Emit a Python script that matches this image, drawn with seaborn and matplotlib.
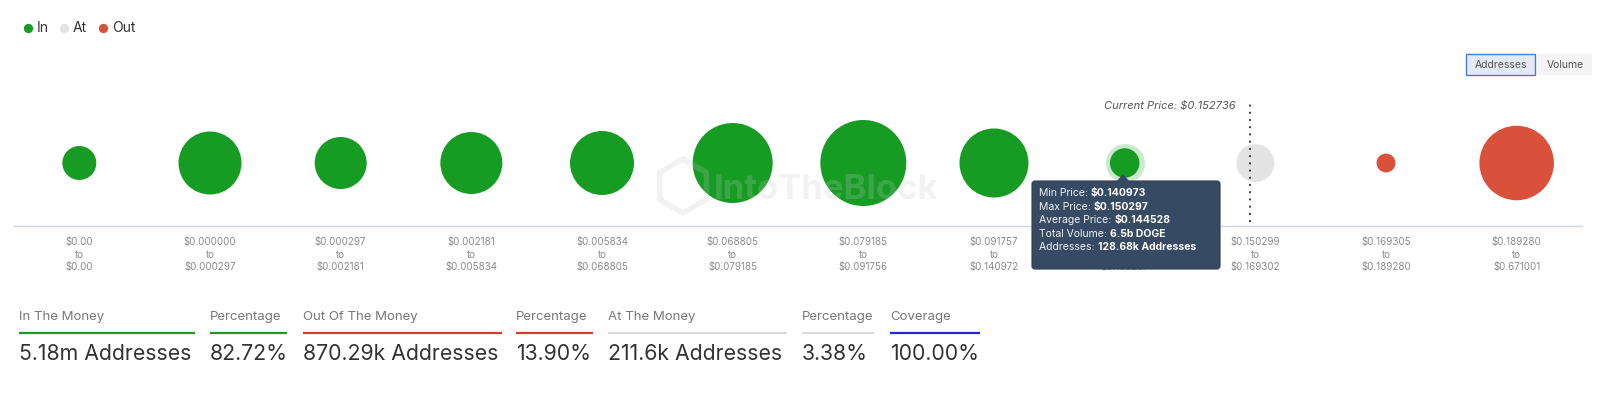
import numpy as np
import pandas as pd
import matplotlib
matplotlib.use("Agg")
import matplotlib.pyplot as plt
import seaborn as sns
from matplotlib.patches import Rectangle, FancyBboxPatch, Polygon

# price bins (in / at / out of the money)
range_lo = ["$0.00", "$0.000000", "$0.000297", "$0.002181", "$0.005834", "$0.068805",
            "$0.079185", "$0.091757", "$0.140973", "$0.150299", "$0.169305", "$0.189280"]
range_hi = ["$0.00", "$0.000297", "$0.002181", "$0.005834", "$0.068805", "$0.079185",
            "$0.091756", "$0.140972", "$0.150297", "$0.169302", "$0.189280", "$0.671001"]
addresses_k = [170, 584, 398, 566, 603, 942, 1089, 701, 128.68, 211.6, 52.6, 817.7]
status = ["In"] * 9 + ["At"] + ["Out"] * 2

current_price = "$0.152736"
current_pos = 8.96

hover = 8
hover_avg = "$0.144528"
hover_volume = "6.5b DOGE"

sum_headers = ["In The Money", "Percentage", "Out Of The Money", "Percentage",
               "At The Money", "Percentage", "Coverage"]
sum_values = ["5.18m Addresses", "82.72%", "870.29k Addresses", "13.90%",
              "211.6k Addresses", "3.38%", "100.00%"]

colors = {"In": "#169c23", "At": "#e3e3e3", "Out": "#d9513a"}
line_colors = ["#1a9a27", "#1a9a27", "#d93a30", "#d93a30", "#dcdcdc", "#dcdcdc", "#2424dd"]
col_x0 = [19, 210, 303, 516, 608, 802, 890]
col_x1 = [195, 287, 502, 593, 787, 874, 980]

sns.set_style("white")
plt.rcParams["font.family"] = ["Inter", "DejaVu Sans"]

df = pd.DataFrame({"idx": np.arange(len(addresses_k)), "y": 0.0,
                   "addresses": addresses_k, "status": status})

fig = plt.figure(figsize=(16, 3.93), dpi=100)
ax = fig.add_axes([14 / 1600, 1 - 226 / 393, 1568 / 1600, 136 / 393])

# area proportional to addresses: biggest bubble ~43 px radius
smax = (86 * 0.72) ** 2
vmax = max(addresses_k)

# halo for hovered bubble
hv = df.iloc[[hover]]
sns.scatterplot(data=hv, x="idx", y="y", size="addresses", sizes=(0, smax * 1.75),
                size_norm=(0, vmax), color="#169c23", alpha=0.22, linewidth=0,
                legend=False, ax=ax)
sns.scatterplot(data=df, x="idx", y="y", hue="status", palette=colors,
                size="addresses", sizes=(0, smax), size_norm=(0, vmax),
                linewidth=0, legend=False, ax=ax, zorder=3)

ax.set_xlim(-0.5, len(addresses_k) - 0.5)
ax.set_ylim(-63, 73)
ax.set_xticks(df["idx"])
ax.set_xticklabels([f"{a}\nto\n{b}" for a, b in zip(range_lo, range_hi)],
                   fontsize=7, color="#8a8a8a", linespacing=1.3)
ax.tick_params(axis="x", length=0, pad=8)
ax.set_yticks([])
ax.set_xlabel("")
ax.set_ylabel("")
for s in ["top", "left", "right"]:
    ax.spines[s].set_visible(False)
ax.spines["bottom"].set_color("#cdd7e3")
ax.spines["bottom"].set_linewidth(1)

# current price marker
ax.vlines(current_pos, -59, 63, colors="#222222", linestyles=(0, (1, 3)), linewidth=1.3, zorder=4)
ax.annotate(f"Current Price: {current_price}", xy=(current_pos, 57), xytext=(-14, 0),
            textcoords="offset pixels", ha="right", va="center", fontsize=8,
            style="italic", color="#555555")

# overlay in pixel coordinates
ov = fig.add_axes([0, 0, 1, 1], zorder=5)
ov.set_xlim(0, 1600)
ov.set_ylim(393, 0)
ov.axis("off")
ov.patch.set_alpha(0)

# watermark
ov.text(826, 190, "IntoTheBlock", fontsize=25, fontweight="bold", color="#c8c8c8",
        alpha=0.22, ha="center", va="center")
hexx = 683 + 27 * np.cos(np.linspace(0, 2 * np.pi, 7) + np.pi / 6)
hexy = 186 + 27 * np.sin(np.linspace(0, 2 * np.pi, 7) + np.pi / 6)
ov.plot(hexx, hexy, color="#c8c8c8", alpha=0.22, lw=4)

# legend
for lx, lab in zip([27.5, 64, 103], ["In", "At", "Out"]):
    ov.scatter([lx], [28], s=45, color=colors[lab], linewidth=0)
    ov.text(lx + 9, 28, lab, fontsize=10, color="#333333", va="center", ha="left")

# buttons
ov.add_patch(Rectangle((1466, 54), 69, 21, facecolor="#e4e9f4", edgecolor="#4a78e0", lw=1))
ov.text(1500.5, 64.5, "Addresses", fontsize=7.5, color="#555555", ha="center", va="center")
ov.add_patch(Rectangle((1538, 54), 54, 21, facecolor="#f4f4f4", edgecolor="none"))
ov.text(1565, 64.5, "Volume", fontsize=7.5, color="#555555", ha="center", va="center")

# tooltip
tip_x = 1123
ov.add_patch(FancyBboxPatch((1032, 181), 188, 88, boxstyle="round,pad=0,rounding_size=3",
                            facecolor="#364b63", edgecolor="#2c3e52", lw=0.8))
ov.add_patch(Polygon([(tip_x - 7, 182), (tip_x, 174), (tip_x + 7, 182)],
                     closed=True, facecolor="#364b63", edgecolor="none"))
tip_rows = [("Min Price: ", range_lo[hover]), ("Max Price: ", range_hi[hover]),
            ("Average Price: ", hover_avg), ("Total Volume: ", hover_volume),
            ("Addresses: ", f"{addresses_k[hover]:g}k Addresses")]
for i, (lab, val) in enumerate(tip_rows):
    t = ov.text(1039, 193 + i * 13.6, lab, fontsize=7.5, color="#eef1f5", va="center")
    ov.annotate(val, xy=(1, 0.5), xycoords=t, va="center", ha="left",
                fontsize=7.5, fontweight="bold", color="white")

# summary row
for h, v, x0, x1, c in zip(sum_headers, sum_values, col_x0, col_x1, line_colors):
    ov.text(x0, 317, h, fontsize=9.5, color="#777777", va="center", ha="left")
    ov.plot([x0, x1], [333, 333], color=c, lw=1.6, solid_capstyle="butt")
    ov.text(x0, 354, v, fontsize=15.3, color="#333333", va="center", ha="left")

fig.savefig("out.png", dpi=100, facecolor="white")
